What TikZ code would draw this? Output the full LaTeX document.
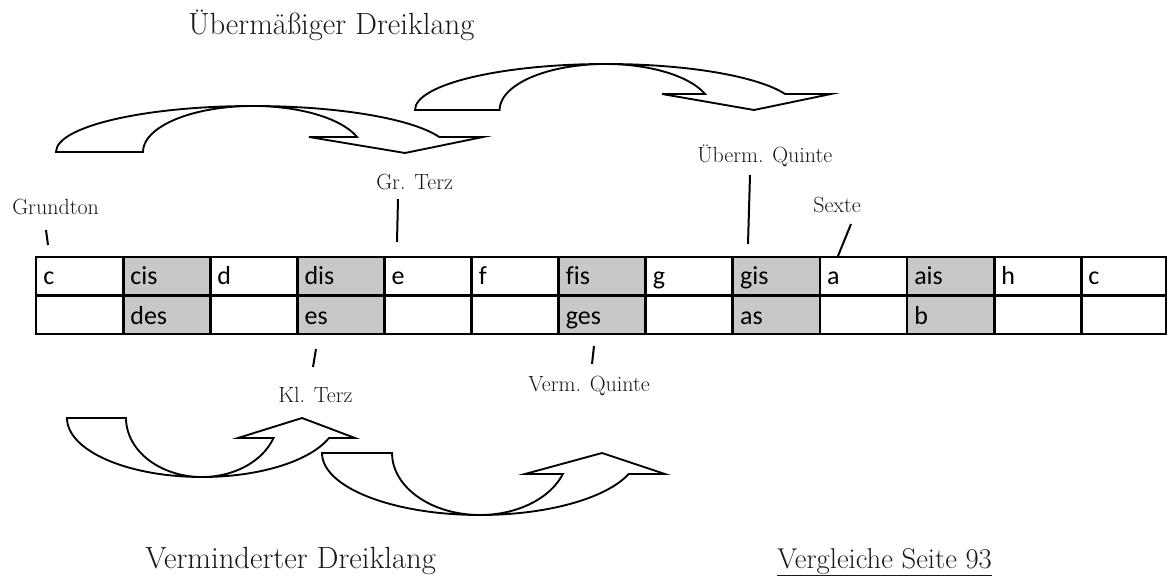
\documentclass[tikz,border=0pt]{standalone}
\usepackage{fontspec}
\newfontfamily\cellfont{Carlito}[Ligatures=NoCommon]
\usetikzlibrary{calc}
\definecolor{sharpgrey}{RGB}{200,200,200}
\definecolor{labelgrey}{RGB}{25,25,25}
\tikzset{
  arrowshape/.style={draw=black, line width=1.4pt, line join=miter},
  tickline/.style={draw=black, line width=1.5pt},
  gridline/.style={draw=black, line width=2.1pt},
  lbl/.style={inner sep=0pt, anchor=base west, font=\fontsize{16.5}{18}\selectfont, text=labelgrey},
  biglbl/.style={inner sep=0pt, anchor=base west, font=\fontsize{23}{26}\selectfont, text=labelgrey},
  celltext/.style={inner sep=0pt, anchor=base west, font=\cellfont\fontsize{19.5}{22}\selectfont},
}
\begin{document}
\begin{tikzpicture}[x=0.75pt, y=-0.75pt]
\useasboundingbox (0,0) rectangle (1168,581);

% big labels
\node[biglbl] (ueber) at (188,35) {Übermäßiger Dreiklang};
\node[biglbl] (vermin) at (145,568) {Verminderter Dreiklang};
\node[biglbl, font=\fontsize{21.5}{24}\selectfont] (vergl) at (777,568) {\underline{Vergleiche Seite 93}};

% small labels
\node[lbl] (grund) at (12,215) {Grundton};
\node[lbl] (grterz) at (376,190) {Gr. Terz};
\node[lbl] (uquinte) at (697,163) {Überm. Quinte};
\node[lbl] (sexte) at (813,213) {Sexte};
\node[lbl] (klterz) at (278,402) {Kl. Terz};
\node[lbl] (vquinte) at (528,391) {Verm. Quinte};

% table fills
\foreach \k in {1,3,6,8,10}
  \fill[sharpgrey] ({36+87.1*\k},257) rectangle ({36+87.1*(\k+1)},334);
% table grid
\draw[gridline] (36,257) rectangle (1166,334);
\draw[gridline] (36,295.5) -- (1166,295.5);
\foreach \k in {1,...,12}
  \draw[gridline] ({36+87.1*\k},257) -- ({36+87.1*\k},334);

% cell texts
\foreach \t [count=\i from 0] in {c,cis,d,dis,e,f,fis,g,gis,a,ais,h,c}
  \node[celltext] (top\i) at ({36+87.1*\i+7},285) {\t};
\foreach \t/\i in {des/1,es/3,ges/6,as/8,b/10}
  \node[celltext] (bot\i) at ({36+87.1*\i+7},325) {\t};

% ticks
\coordinate (g1) at (46,230); \coordinate (g2) at (48,245);
\coordinate (gt1) at (398,199); \coordinate (gt2) at (397,242);
\coordinate (uq1) at (750,175); \coordinate (uq2) at (748,244);
\coordinate (sx1) at (851,224); \coordinate (sx2) at (838,256);
\coordinate (kt1) at (316,349); \coordinate (kt2) at (313,367);
\coordinate (vq1) at (594,346); \coordinate (vq2) at (592,364);
\draw[tickline] (g1) -- (g2);
\draw[tickline] (gt1) -- (gt2);
\draw[tickline] (uq1) -- (uq2);
\draw[tickline] (sx1) -- (sx2);
\draw[tickline] (kt1) -- (kt2);
\draw[tickline] (vq1) -- (vq2);

% curved arrows (top, pointing down)
\draw[arrowshape] (56,152) arc[start angle=180, end angle=341, x radius=197, y radius=46]
  -- (483,137) -- (405,153) -- (309,137) -- (357,137)
  arc[start angle=341, end angle=180, x radius=110, y radius=46] -- cycle;
\draw[arrowshape] (415,110) arc[start angle=180, end angle=339.65, x radius=191, y radius=46]
  -- (831,94) -- (754,110) -- (662,94) -- (705,94)
  arc[start angle=339.65, end angle=180, x radius=106, y radius=46] -- cycle;

% curved arrows (bottom, pointing up)
\draw[arrowshape] (67,418) arc[start angle=180, end angle=19.8, x radius=135, y radius=59]
  -- (355,438) -- (302,418) -- (238,438) -- (273.5,438)
  arc[start angle=19.8, end angle=180, x radius=76, y radius=59] -- cycle;
\draw[arrowshape] (322,453) arc[start angle=180, end angle=19.8, x radius=158, y radius=62]
  -- (665,474) -- (602,453) -- (525,474) -- (562.8,474)
  arc[start angle=19.8, end angle=180, x radius=88, y radius=62] -- cycle;
\end{tikzpicture}
\end{document}
